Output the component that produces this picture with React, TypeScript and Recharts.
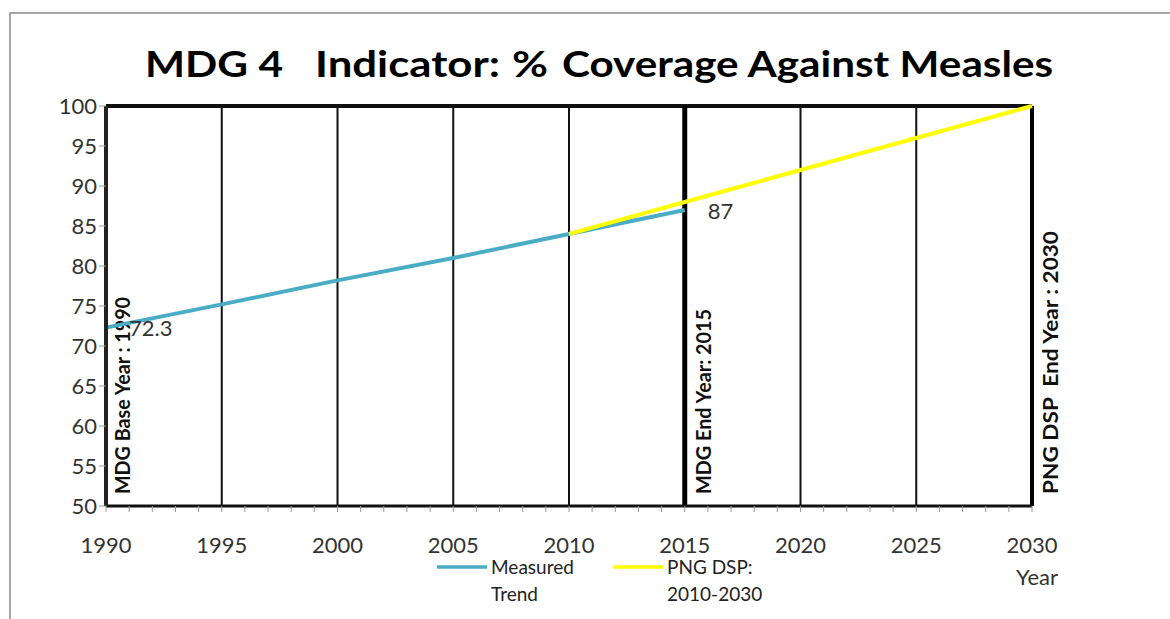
import { LineChart, Line, XAxis, YAxis, ReferenceLine } from "recharts";

// measured coverage (% of children vaccinated against measles)
const MEASURED_YEARS = [1990, 1995, 2000, 2005, 2010, 2015];
const MEASURED = [72.3, 75.2, 78.2, 81.0, 84.0, 87.0];

// PNG DSP target path 2010-2030
const DSP_YEARS = [2010, 2015, 2020, 2025, 2030];
const DSP = [84, 88, 92, 96, 100];

const LABELLED_YEARS = [1990, 2015];
const GRID_YEARS = [1995, 2000, 2005, 2010, 2020, 2025];
const Y_TICKS = [50, 55, 60, 65, 70, 75, 80, 85, 90, 95, 100];
const X_TICKS = Array.from({ length: 41 }, (_, i) => 1990 + i);

const SERIES = [
  { key: "measured", name: ["Measured", "Trend"], color: "#4bacc6" },
  { key: "dsp", name: ["PNG DSP:", "2010-2030"], color: "#ffff00" },
];

const FONT = "Lato, 'Open Sans', sans-serif";

const allYears = Array.from(new Set([...MEASURED_YEARS, ...DSP_YEARS])).sort((a, b) => a - b);
const rows = allYears.map((year) => {
  const mi = MEASURED_YEARS.indexOf(year);
  const di = DSP_YEARS.indexOf(year);
  return {
    year,
    measured: mi >= 0 ? MEASURED[mi] : null,
    dsp: di >= 0 ? DSP[di] : null,
  };
});

const pointLabel = (props: any) => {
  const { x, y, value, index } = props;
  if (value == null || !LABELLED_YEARS.includes(rows[index]?.year)) return null;
  return (
    <text x={x + 23} y={y + 1} dy="0.35em" fontSize={22} fill="#333" fontFamily={FONT}>
      {value}
    </text>
  );
};

// vertical label standing on the bottom of a reference line
const vLabel = (text: string, dx: number, len: number) => (props: any) => {
  const vb = props.viewBox || {};
  const x = vb.x + dx;
  const y = vb.y + vb.height - 12;
  return (
    <text
      x={x}
      y={y}
      transform={`rotate(-90 ${x} ${y})`}
      dominantBaseline="central"
      fontSize={20}
      fontWeight="bold"
      fill="#111"
      fontFamily={FONT}
      textLength={len}
      lengthAdjust="spacingAndGlyphs"
      style={{ whiteSpace: "pre" }}
    >
      {text}
    </text>
  );
};

export default function App() {
  return (
    <div style={{ position: "absolute", left: 0, top: 0, width: 1170, height: 619, background: "#fff" }}>
      <LineChart
        width={1170}
        height={619}
        data={rows}
        margin={{ top: 106, right: 138, bottom: 83, left: 46 }}
      >
        <XAxis
          dataKey="year"
          type="number"
          domain={[1990, 2030]}
          ticks={X_TICKS}
          interval={0}
          height={30}
          tickSize={6}
          tickMargin={25}
          tickFormatter={(v: number) => (v % 5 === 0 ? String(v) : "")}
          tick={{ fontSize: 22, fill: "#333", fontFamily: FONT }}
          tickLine={{ stroke: "#999" }}
          axisLine={{ stroke: "#111", strokeWidth: 3 }}
        />
        <YAxis
          type="number"
          domain={[50, 100]}
          ticks={Y_TICKS}
          interval={0}
          width={60}
          tickSize={7}
          tick={{ fontSize: 22, fill: "#333", fontFamily: FONT }}
          tickLine={{ stroke: "#999" }}
          axisLine={{ stroke: "#222", strokeWidth: 4 }}
        />
        {GRID_YEARS.map((yr) => (
          <ReferenceLine key={yr} x={yr} stroke="#111" strokeWidth={2} />
        ))}
        <ReferenceLine y={100} stroke="#111" strokeWidth={4} />
        <ReferenceLine x={1990} stroke="#222" strokeWidth={4} label={vLabel("MDG Base Year : 1990", 16, 197)} />
        <ReferenceLine x={2015} stroke="#000" strokeWidth={5} label={vLabel("MDG End Year: 2015", 18, 185)} />
        <ReferenceLine x={2030} stroke="#000" strokeWidth={4} label={vLabel("PNG DSP  End Year : 2030", 18, 263)} />
        <Line
          dataKey="measured"
          stroke={SERIES[0].color}
          strokeWidth={4}
          dot={false}
          isAnimationActive={false}
          label={pointLabel}
        />
        <Line
          dataKey="dsp"
          stroke={SERIES[1].color}
          strokeWidth={4}
          dot={false}
          isAnimationActive={false}
        />
      </LineChart>

      <svg
        width={1170}
        height={619}
        style={{ position: "absolute", left: 0, top: 0, pointerEvents: "none" }}
        fontFamily={FONT}
      >
        <path d="M10 619 V13 H1170" fill="none" stroke="#8a8a8a" strokeWidth={1.5} />
        {/* title */}
        <g fontSize={36} fontWeight="bold" fill="#000">
          <text x={145} y={77} textLength={138} lengthAdjust="spacingAndGlyphs">MDG 4</text>
          <text x={315} y={77} textLength={185} lengthAdjust="spacingAndGlyphs">Indicator:</text>
          <text x={512} y={77} textLength={36} lengthAdjust="spacingAndGlyphs">%</text>
          <text x={562} y={77} textLength={491} lengthAdjust="spacingAndGlyphs">Coverage Against Measles</text>
        </g>
        <text x={1058} y={585} textAnchor="end" fontSize={22} fill="#333">Year</text>
        {/* legend */}
        {SERIES.map((s, i) => {
          const x0 = 437 + i * 176;
          return (
            <g key={s.key}>
              <line x1={x0} x2={x0 + 50} y1={567} y2={567} stroke={s.color} strokeWidth={3.5} />
              <text x={x0 + 54} y={574} fontSize={19} fill="#222">{s.name[0]}</text>
              <text x={x0 + 54} y={601} fontSize={19} fill="#222">{s.name[1]}</text>
            </g>
          );
        })}
      </svg>
    </div>
  );
}
